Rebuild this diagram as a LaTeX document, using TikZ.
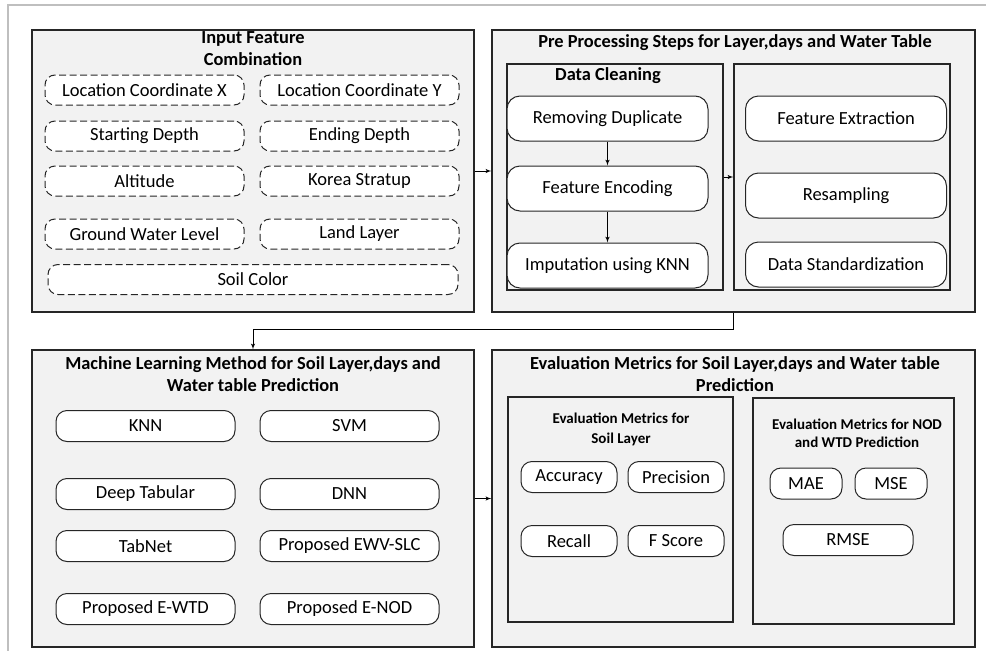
\documentclass[tikz,border=0pt]{standalone}
\usepackage{fontspec}
\setmainfont{Carlito}
\usetikzlibrary{shapes,arrows}
\usetikzlibrary{positioning}

\begin{document}
\begin{tikzpicture}[x=1pt, y=-1pt, node distance=15pt, auto,
			panel/.style={
					rectangle,
					draw=black!85,
					line width=1.2pt,
					fill=black!5,
					inner sep=0pt
				},
			title/.style={font=\fontsize{18.4}{22}\selectfont\bfseries, align=center, text=black},
			subtitle/.style={font=\fontsize{15}{20}\selectfont\bfseries, align=center, text=black},
			feat/.style={
					rectangle,
					draw=black!85,
					dash pattern=on 7pt off 3.5pt,
					line width=1pt,
					rounded corners=10pt,
					fill=white,
					minimum width=199pt,
					minimum height=30pt,
					font=\fontsize{18.5}{20}\selectfont,
					text=black
				},
			stepbox/.style={
					rectangle,
					draw=black!85,
					line width=1pt,
					rounded corners=13pt,
					fill=white,
					minimum width=201pt,
					minimum height=45pt,
					font=\fontsize{18.5}{20}\selectfont,
					text=black
				},
			algo/.style={stepbox, rounded corners=11pt, minimum width=179pt, minimum height=31pt},
			metric/.style={stepbox, rounded corners=11pt, minimum width=96pt, minimum height=31pt},
			line/.style={draw, line width=1pt, -latex'}
		]
		\useasboundingbox (0,0) rectangle (986,651);
		% Window frame
		\draw[black!25, line width=2pt] (8,651) -- (8,5) -- (986,5);
		% Main panels
		\node [panel, minimum width=442pt, minimum height=282pt] (input) at (253,171) {};
		\node [panel, minimum width=483pt, minimum height=282pt] (pre) at (733.5,171) {};
		\node [panel, minimum width=442pt, minimum height=297pt] (ml) at (253,498.5) {};
		\node [panel, minimum width=483pt, minimum height=297pt] (eval) at (733.5,498.5) {};
		% Inner panels
		\node [panel, minimum width=216pt, minimum height=226pt] (dclean) at (615,177) {};
		\node [panel, minimum width=216pt, minimum height=226pt] (prep) at (842,177) {};
		\node [panel, minimum width=225pt, minimum height=225pt] (sleval) at (620.5,509.5) {};
		\node [panel, minimum width=201pt, minimum height=226pt] (regeval) at (853.5,511) {};
		% Titles
		\node [title] (inputtitle) at (253,49) {Input Feature\\Combination};
		\node [title] (pretitle) at (735,43) {Pre Processing Steps for Layer,days and Water Table};
		\node [title] (dcleantitle) at (608,76) {Data Cleaning};
		\node [title] (mltitle) at (253,374.5) {Machine Learning Method for Soil Layer,days and\\Water table Prediction};
		\node [title] (evaltitle) at (735,374.5) {Evaluation Metrics for Soil Layer,days and Water table\\Prediction};
		\node [subtitle] (sltitle) at (621,429) {Evaluation Metrics for\\Soil Layer};
		\node [subtitle, font=\fontsize{15}{18}\selectfont\bfseries] (regtitle) at (857,433) {Evaluation Metrics for NOD\\and WTD Prediction};
		% Input features
		\node [feat] (locx) at (144.5,90) {Location Coordinate X};
		\node [feat, right=15pt of locx] (locy) {Location Coordinate Y};
		\node [feat, below=15pt of locx] (sdepth) {Starting Depth};
		\node [feat, below=15pt of locy] (edepth) {Ending Depth};
		\node [feat, below=14pt of sdepth] (alt) {Altitude};
		\node [feat, below=14pt of edepth] (strat) {Korea Stratup};
		\node [feat, below=22pt of alt] (gwl) {Ground Water Level};
		\node [feat, below=22pt of strat] (land) {Land Layer};
		\node [feat, minimum width=410pt] (soil) at (253,279.5) {Soil Color};
		% Pre processing steps
		\node [stepbox] (dup) at (607.5,118.5) {Removing Duplicate};
		\node [stepbox, below=24pt of dup] (enc) {Feature Encoding};
		\node [stepbox, below=31pt of enc] (imp) {Imputation using KNN};
		\node [stepbox] (fext) at (846,118.5) {Feature Extraction};
		\node [stepbox, below=31pt of fext] (resamp) {Resampling};
		\node [stepbox, below=23pt of resamp] (std) {Data Standardization};
		% Learning methods
		\node [algo] (knn) at (145.5,426) {KNN};
		\node [algo, right=24pt of knn] (svm) {SVM};
		\node [algo, below=36pt of knn] (deep) {Deep Tabular};
		\node [algo, below=36pt of svm] (dnn) {DNN};
		\node [algo, below=20pt of deep] (tabnet) {TabNet};
		\node [algo, below=20pt of dnn] (ewv) {Proposed EWV-SLC};
		\node [algo, below=31pt of tabnet] (ewtd) {Proposed E-WTD};
		\node [algo, below=31pt of ewv] (enod) {Proposed E-NOD};
		% Metrics
		\node [metric] (acc) at (569,477) {Accuracy};
		\node [metric, right=10pt of acc] (prec) {Precision};
		\node [metric, below=32pt of acc] (recall) {Recall};
		\node [metric, below=32pt of prec] (fscore) {F Score};
		\node [metric, minimum width=72pt] (mae) at (806,483.5) {MAE};
		\node [metric, minimum width=72pt, right=12pt of mae] (mse) {MSE};
		\node [metric, minimum width=130pt] (rmse) at (848,540) {RMSE};
		% Draw edges
		\path [line] (input) -- (pre);
		\path [line] (dup) -- (enc);
		\path [line] (enc) -- (imp);
		\path [line] (dclean) -- (prep);
		\path [line] (pre.south) -- ++(0,17) -| (ml.north);
		\path [line] (ml) -- (eval);
	\end{tikzpicture}
\end{document}
